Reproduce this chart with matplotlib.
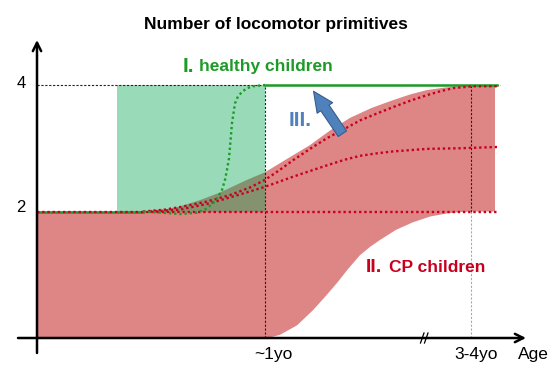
import numpy as np
import matplotlib
matplotlib.use("Agg")
import matplotlib.pyplot as plt
from matplotlib.patches import FancyArrowPatch, ArrowStyle

plt.rcParams['font.family'] = ['Liberation Sans', 'DejaVu Sans']

# ---- data (schematic: x = age position, y = number of primitives) ----
x_origin = 37
x_1yo = 265
x_34yo = 471
x_end = 497

# CP children band (red area)
red_upper_x = [37, 150, 165, 180, 200, 220, 247, 265, 290, 310, 330, 350, 372, 393, 410, 427, 445, 460, 495]
red_upper_y = [2.0, 2.0, 2.03, 2.08, 2.18, 2.3, 2.5, 2.62, 2.86, 3.05, 3.28, 3.48, 3.64, 3.76, 3.85, 3.92, 3.96, 3.98, 4.0]
red_lower_x = [37, 268, 280, 297, 313, 325, 337, 348, 360, 370, 380, 396, 413, 430, 447, 460, 473, 495]
red_lower_y = [0.0, 0.0, 0.05, 0.2, 0.44, 0.65, 0.87, 1.09, 1.31, 1.44, 1.55, 1.71, 1.83, 1.92, 1.97, 1.99, 2.0, 2.0]

# Healthy children window (green area)
green_x = [117, 265]
green_low = 2
green_high = 4

# CP example trajectories (red dotted)
red_flat_x = [37, 497]
red_flat_y = [2, 2]
red_top_x = [143, 165, 180, 205, 230, 250, 265, 280, 293, 310, 327, 345, 360, 377, 393, 410, 427, 440, 453, 473, 497]
red_top_y = [2.0, 2.03, 2.07, 2.15, 2.26, 2.38, 2.5, 2.66, 2.81, 2.99, 3.16, 3.31, 3.44, 3.55, 3.65, 3.75, 3.84, 3.9, 3.95, 3.98, 3.98]
red_mid_x = [150, 180, 207, 225, 240, 265, 293, 310, 327, 345, 360, 377, 393, 410, 427, 460, 497]
red_mid_y = [2.0, 2.03, 2.12, 2.2, 2.27, 2.39, 2.55, 2.64, 2.73, 2.82, 2.88, 2.92, 2.95, 2.97, 2.99, 3.0, 3.02]

# Healthy trajectory (green)
green_dot_x = [143, 163, 180, 197, 206, 213, 218, 222, 225, 227, 229, 230, 232, 235, 238, 242, 247, 253, 265]
green_dot_y = [2.0, 1.98, 1.96, 1.98, 2.04, 2.13, 2.23, 2.34, 2.5, 2.66, 2.84, 3.02, 3.4, 3.71, 3.82, 3.89, 3.95, 3.98, 4.0]
green_solid_low_x = [37, 143]
green_solid_high_x = [265, 497]

y_ticks = [2, 4]
y_tick_labels = ["2", "4"]
x_ticks = [x_1yo, x_34yo]
x_tick_labels = ["~1yo", "3-4yo"]

# ---- figure ----
W, H = 560, 374
fig = plt.figure(figsize=(W / 100, H / 100), dpi=100)
ax = fig.add_axes([0, 0, 1, 1])
ax.set_xlim(0, W)
py0 = 338.0
ppu = 63.25
def Y(py):
    return (py0 - py) / ppu
ax.set_ylim(Y(H), Y(0))
ax.axis('off')

red_fill = '#de8585'
red_line = '#c8001e'
green_line = '#1e9a28'
blue = '#4f81bd'

# red band
ax.fill(np.concatenate([red_upper_x, red_lower_x[::-1]]),
        np.concatenate([red_upper_y, red_lower_y[::-1]]),
        color=red_fill, lw=0, zorder=1)
# green window
ax.fill_between(green_x, green_low, green_high, color=(0, 0.65, 0.31), alpha=0.4, lw=0, zorder=2)

# reference dotted black lines
ax.plot([x_origin, 500], [4, 4], color='#222222', lw=0.8, ls=(0, (2, 1.5)), zorder=3)
ax.plot([x_1yo, x_1yo], [0, 4], color='#222222', lw=0.8, ls=(0, (2, 1.5)), zorder=3)
ax.plot([x_34yo, x_34yo], [2, 4], color='#222222', lw=0.8, ls=(0, (2, 1.5)), zorder=3)
ax.plot([x_34yo, x_34yo], [0, 2], color='#aaaaaa', lw=0.8, ls=(0, (2, 1.5)), zorder=3)

dot = (0, (1, 1.2))
ax.plot(red_flat_x, red_flat_y, color=red_line, lw=1.7, ls=dot, zorder=5)
ax.plot(red_top_x, red_top_y, color=red_line, lw=1.7, ls=dot, zorder=5)
ax.plot(red_mid_x, red_mid_y, color=red_line, lw=1.7, ls=dot, zorder=5)

ax.plot(green_solid_low_x, [2, 2], color=green_line, lw=1.8, zorder=4)
ax.plot(green_solid_high_x, [4, 4], color=green_line, lw=1.8, zorder=4)
ax.plot(green_dot_x, green_dot_y, color=green_line, lw=1.7, ls=dot, zorder=6)

# axes with arrows
ax.annotate('', xy=(x_origin, Y(40)), xytext=(x_origin, Y(353)),
            arrowprops=dict(arrowstyle='->,head_length=0.6,head_width=0.3', lw=1.8, color='black',
                            shrinkA=0, shrinkB=0), zorder=8)
ax.annotate('', xy=(526, 0), xytext=(18, 0),
            arrowprops=dict(arrowstyle='->,head_length=0.6,head_width=0.3', lw=1.8, color='black',
                            shrinkA=0, shrinkB=0), zorder=8)
# axis break marks
for bx in (420.5, 424.5):
    ax.plot([bx, bx + 3.5], [Y(343), Y(333)], color='black', lw=0.9, zorder=9)

# blue arrow
arr = FancyArrowPatch((344, Y(136)), (312, Y(89)),
                      arrowstyle=ArrowStyle.Simple(head_length=1.45, head_width=1.35, tail_width=0.72),
                      mutation_scale=10, facecolor=blue, edgecolor='#385d8a', lw=0.8, zorder=10)
ax.add_patch(arr)

# tick labels
ax.text(21, Y(84), y_tick_labels[1], ha='center', va='center', fontsize=12, color='black')
ax.text(21, Y(207), y_tick_labels[0], ha='center', va='center', fontsize=12, color='black')
ax.text(x_ticks[0] + 8, Y(354), x_tick_labels[0], ha='center', va='center', fontsize=12.5, color='black')
ax.text(x_ticks[1] + 5, Y(354), x_tick_labels[1], ha='center', va='center', fontsize=12.5, color='black')
ax.text(518, Y(355), "Age", ha='left', va='center', fontsize=12.5, color='black')

# texts
ax.text(276, Y(24), "Number of locomotor primitives", ha='center', va='center',
        fontsize=12.5, fontweight='bold')
ax.text(183, Y(66), "I.", ha='left', va='center', fontsize=15, fontweight='bold', color=green_line)
ax.text(199, Y(66), "healthy children", ha='left', va='center', fontsize=12.5, fontweight='bold', color=green_line)
ax.text(289, Y(120), "III.", ha='left', va='center', fontsize=15, fontweight='bold', color=blue)
ax.text(366, Y(268), "II.", ha='left', va='center', fontsize=14, fontweight='bold', color=red_line)
ax.text(389, Y(268), "CP children", ha='left', va='center', fontsize=12.5, fontweight='bold', color=red_line)

fig.savefig("out.png", dpi=100)
